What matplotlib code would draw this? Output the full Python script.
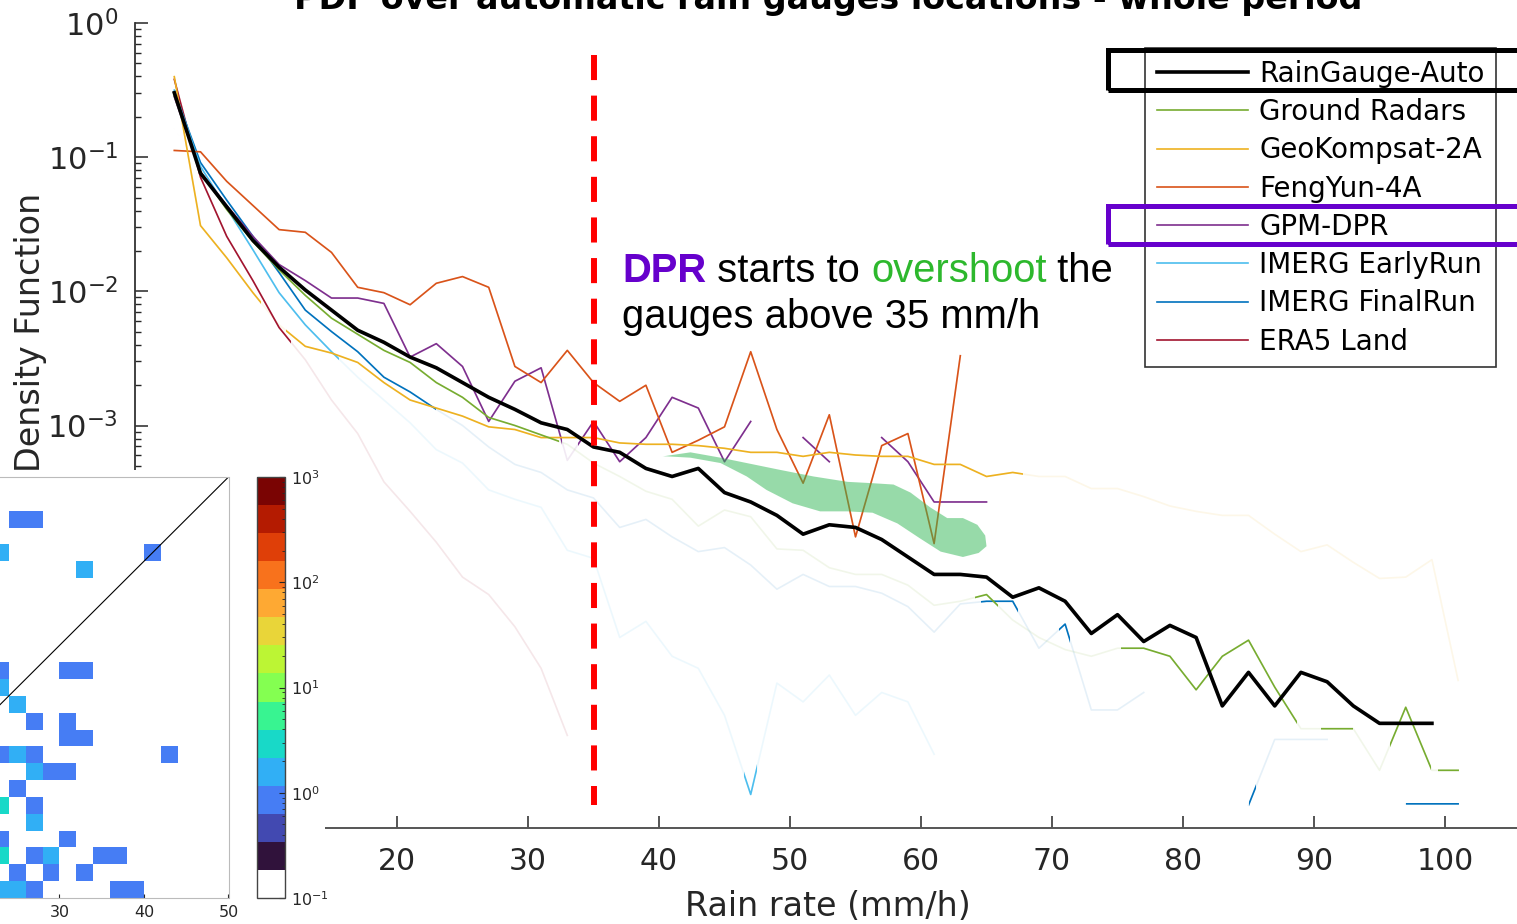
import numpy as np
import matplotlib.pyplot as plt
import matplotlib.transforms as mtransforms
from matplotlib.lines import Line2D
from matplotlib.patches import Rectangle, Polygon
from matplotlib.colors import ListedColormap, LogNorm

# bin centres of the rain rate (mm/h)
rain_rate = np.arange(3, 102, 2)
nan = np.nan

# log10 of the PDF (one value per bin, nan = no data)
gauge_log = [-0.52, -1.12, -1.37, -1.62, -1.82, -1.99, -2.14, -2.29, -2.38, -2.49,
             -2.57, -2.68, -2.79, -2.88, -2.98, -3.03, -3.16, -3.20, -3.32, -3.38,
             -3.32, -3.50, -3.57, -3.67, -3.81, -3.74, -3.76, -3.85, -3.98, -4.11,
             -4.11, -4.13, -4.28, -4.21, -4.31, -4.55, -4.41, -4.61, -4.49, -4.58,
             -5.09, -4.84, -5.09, -4.84, -4.91, -5.09, -5.22, -5.22, -5.22, nan]
radar_log = [-0.54, -1.11, -1.39, -1.63, -1.84, -2.03, -2.20, -2.32, -2.44, -2.53,
             -2.68, -2.79, -2.94, -3.00, -3.07, -3.14, -3.28, -3.38, -3.49, -3.55,
             -3.75, -3.63, -3.68, -3.92, -3.93, -4.06, -4.11, -4.11, -4.19, -4.34,
             -4.31, -4.26, -4.45, -4.58, -4.67, -4.72, -4.66, -4.66, -4.72, -4.97,
             -4.72, -4.60, -4.95, -5.26, -5.26, -5.26, -5.57, -5.10, -5.57, -5.57]
geok_log = [-0.40, -1.51, -1.75, -2.01, -2.25, -2.41, -2.46, -2.53, -2.68, -2.81,
            -2.87, -2.93, -3.01, -3.03, -3.09, -3.09, -3.09, -3.13, -3.14, -3.14,
            -3.15, -3.17, -3.20, -3.20, -3.23, -3.20, -3.22, -3.23, -3.23, -3.29,
            -3.29, -3.38, -3.35, -3.38, -3.38, -3.47, -3.47, -3.53, -3.60, -3.64,
            -3.67, -3.67, -3.81, -3.94, -3.89, -4.02, -4.14, -4.13, -4.00, -4.90]
fengyun_log = [-0.95, -0.96, -1.18, -1.36, -1.54, -1.56, -1.71, -1.97, -2.01, -2.10,
               -1.94, -1.89, -1.97, -2.56, -2.68, -2.44, -2.68, -2.82, -2.70, -3.20,
               -3.11, -3.01, -2.45, -3.03, -3.43, -2.92, -3.83, -3.15, -3.06, -3.88,
               -2.48, nan, nan, nan, nan, nan, nan, nan, nan, nan,
               nan, nan, nan, nan, nan, nan, nan, nan, nan, nan]
dpr_log = [-0.55, -1.11, -1.36, -1.59, -1.80, -1.92, -2.05, -2.05, -2.09, -2.49,
           -2.39, -2.56, -2.97, -2.67, -2.57, -3.26, -2.97, -3.27, -3.09, -2.79,
           -2.87, -3.27, -2.97, nan, -3.09, -3.27, nan, -3.09, -3.27, -3.57,
           -3.57, -3.57, nan, nan, nan, nan, nan, nan, nan, nan,
           nan, nan, nan, nan, nan, nan, nan, nan, nan, nan]
early_log = [-0.50, -1.07, -1.38, -1.69, -2.01, -2.25, -2.45, -2.64, -2.81, -2.98,
             -3.18, -3.28, -3.48, -3.55, -3.61, -3.93, -3.99, -4.58, -4.46, -4.72,
             -4.81, -5.16, -5.75, -4.92, -5.06, -4.86, -5.16, -4.99, -5.06, -5.45,
             nan, nan, nan, nan, nan, nan, nan, nan, nan, nan,
             nan, nan, nan, nan, nan, nan, nan, nan, nan, nan]
final_log = [-0.51, -1.04, -1.32, -1.59, -1.86, -2.14, -2.30, -2.45, -2.64, -2.75,
             -2.88, -3.00, -3.16, -3.29, -3.35, -3.48, -3.54, -3.76, -3.70, -3.83,
             -3.94, -3.91, -4.04, -4.22, -4.11, -4.20, -4.20, -4.25, -4.35, -4.54,
             -4.33, -4.31, -4.31, -4.66, -4.48, -5.12, -5.12, -4.99, nan, nan,
             nan, -5.83, -5.34, -5.34, -5.34, nan, nan, -5.82, -5.82, -5.82]
era5_log = [-0.42, -1.15, -1.59, -1.92, -2.27, -2.51, -2.81, -3.06, -3.42, -3.64,
            -3.87, -4.13, -4.26, -4.50, -4.81, -5.31, nan, nan, nan, nan,
            nan, nan, nan, nan, nan, nan, nan, nan, nan, nan,
            nan, nan, nan, nan, nan, nan, nan, nan, nan, nan,
            nan, nan, nan, nan, nan, nan, nan, nan, nan, nan]

series_names = ['RainGauge-Auto', 'Ground Radars', 'GeoKompsat-2A', 'FengYun-4A',
                'GPM-DPR', 'IMERG EarlyRun', 'IMERG FinalRun', 'ERA5 Land']
series_logs = [gauge_log, radar_log, geok_log, fengyun_log,
               dpr_log, early_log, final_log, era5_log]
series_colors = ['black', '#77AC30', '#EDB120', '#D95319',
                 '#7E2F8E', '#4DBEEE', '#0072BD', '#A2142F']
series_lw = [2.6, 1.2, 1.2, 1.2, 1.2, 1.2, 1.2, 1.2]
# rain-rate ranges drawn at full opacity, the rest of each curve is faded
solid_ranges = [
    [(0, 110)],
    [(0, 32.4), (64.1, 65.9), (75.3, 88.7), (90.5, 93.0), (95.8, 98.9), (99.5, 110)],
    [(0, 9.6), (11.5, 67.8)],
    [(0, 110)],
    [(0, 32.6), (33.8, 110)],
    [(0, 15.6), (46.5, 47.5)],
    [(0, 23.0), (64.6, 67.4), (70.5, 71.4), (85.0, 85.6), (97.0, 110)],
    [(0, 11.9)],
]

# 2D histogram inset (bin lower-left corner, count)
cell_x = [24, 26, 22, 40, 32, 22, 30, 32, 22, 24, 26, 30, 30, 32, 22, 24, 26, 42,
          26, 28, 30, 24, 22, 26, 26, 22, 30, 22, 26, 28, 34, 36, 24, 28, 32,
          22, 24, 26, 36, 38]
cell_y = [44, 44, 40, 40, 38, 26, 26, 26, 24, 22, 20, 20, 18, 18, 16, 16, 16, 16,
          14, 14, 14, 12, 10, 10, 8, 6, 6, 4, 4, 4, 4, 4, 2, 2, 2,
          0, 0, 0, 0, 0]
cell_n = [1, 1, 2, 1, 2, 1, 1, 1, 2, 2, 1, 1, 1, 1, 1, 2, 1, 1,
          2, 1, 1, 1, 3, 1, 2, 1, 1, 3, 1, 2, 1, 1, 1, 1, 1,
          2, 2, 1, 1, 1]

# highlighted area above the gauge curve (rain rate, log10 PDF)
blob_x = [40.3, 42.4, 44.7, 46.7, 49.2, 51.8, 54.4, 56.3, 57.9, 59.2, 60.7, 62.0,
          63.2, 64.3, 64.9, 65.0, 64.4, 63.2, 61.5, 59.9, 58.2, 56.3, 54.4, 52.3,
          50.2, 48.2, 46.7, 44.7, 42.4, 40.6]
blob_log = [-3.23, -3.20, -3.24, -3.28, -3.33, -3.38, -3.42, -3.43, -3.44, -3.50,
            -3.61, -3.69, -3.69, -3.74, -3.82, -3.90, -3.95, -3.98, -3.94, -3.84,
            -3.73, -3.65, -3.64, -3.64, -3.58, -3.48, -3.38, -3.28, -3.24, -3.23]

W, H = 1517, 924
fig = plt.figure(figsize=(W / 100, H / 100), dpi=100)


def fx(px):
    return px / W


def fy(py):
    return 1 - py / H


tick_col = '#262626'
ax = fig.add_axes([fx(135), fy(828), (1521 - 135) / W, (828 - 23) / H])
ax.set_yscale('log')
ax.set_xlim(0, 105.8)
ax.set_ylim(1e-6, 1)

band = mtransforms.blended_transform_factory(ax.transData, ax.transAxes)
for k in range(len(series_names) - 1, -1, -1):
    y = 10.0 ** np.array(series_logs[k], dtype=float)
    z = 4 if k == 0 else 3
    ax.plot(rain_rate, y, color=series_colors[k], lw=series_lw[k], alpha=0.10, zorder=2)
    for x0, x1 in solid_ranges[k]:
        ln, = ax.plot(rain_rate, y, color=series_colors[k], lw=series_lw[k], zorder=z)
        ln.set_clip_path(Rectangle((x0, 0), x1 - x0, 1, transform=band))

blob = Polygon(np.column_stack([blob_x, 10.0 ** np.array(blob_log)]), closed=True,
               facecolor='#31B755', edgecolor='none', alpha=0.5, zorder=5)
ax.add_patch(blob)

ax.plot([35, 35], [10 ** -0.24, 10 ** -5.83], color='red', lw=4.3,
        dashes=(4.2, 2.6), zorder=6)

for s in ['top', 'right']:
    ax.spines[s].set_visible(False)
ax.spines['left'].set_color('#333333')
ax.spines['bottom'].set_color('#555555')
ax.spines['left'].set_linewidth(1.3)
ax.spines['bottom'].set_linewidth(1.4)
ax.set_xticks([20, 30, 40, 50, 60, 70, 80, 90, 100])
ax.tick_params(axis='x', direction='in', length=9, width=1.1, pad=14,
               labelsize=21.5, colors=tick_col)
ax.tick_params(axis='y', which='major', direction='in', length=9, width=1.1, pad=12,
               labelsize=22, colors=tick_col)
ax.tick_params(axis='y', which='minor', direction='in', length=4.5, width=1.0,
               colors=tick_col)
ax.set_xlabel('Rain rate (mm/h)', fontsize=24, color=tick_col, labelpad=10)
ax.set_ylabel('Probability Density Function', fontsize=24, color=tick_col)
ax.yaxis.set_label_coords((47 - 135) / (1521 - 135), 0.5)

handles = [Line2D([], [], color=series_colors[k], lw=series_lw[k])
           for k in range(len(series_names))]
leg = ax.legend(handles, series_names, loc='upper left',
                bbox_to_anchor=(fx(1145), fy(48)), bbox_transform=fig.transFigure,
                borderaxespad=0, fontsize=20, handlelength=3.3, handletextpad=0.4,
                labelspacing=0.37, borderpad=0.42, fancybox=False,
                edgecolor='#333333', framealpha=1)
leg.get_frame().set_linewidth(1.2)

fig.text(fx(828), fy(9), 'PDF over automatic rain gauges locations - whole period',
         ha='center', va='baseline', fontsize=24, weight='bold', color='black')

# annotation with coloured words
ann = dict(family='Liberation Sans', fontsize=28.8, va='bottom')
t1 = fig.text(fx(622), fy(282), 'DPR', color='#6600CC', weight='bold',
              family='Liberation Sans', fontsize=28.8, va='baseline')
t2 = ax.annotate(' starts to ', xy=(1, 0), xycoords=t1, color='black', **ann)
t3 = ax.annotate('overshoot', xy=(1, 0), xycoords=t2, color='#2DB82D', **ann)
ax.annotate(' the', xy=(1, 0), xycoords=t3, color='black', **ann)
fig.text(fx(622), fy(328), 'gauges above 35 mm/h', color='black',
         family='Liberation Sans', fontsize=28.8, va='baseline')

# highlight boxes on the legend
fig.add_artist(Rectangle((fx(1108), fy(90)), fx(1535) - fx(1108), (90 - 50) / H,
                         transform=fig.transFigure, fill=False, ec='black', lw=3.6,
                         zorder=10))
fig.add_artist(Rectangle((fx(1108), fy(244)), fx(1535) - fx(1108), (244 - 206) / H,
                         transform=fig.transFigure, fill=False, ec='#6600CC', lw=3.6,
                         zorder=10))

# white panel holding the inset
fig.add_artist(Rectangle((0, 0), fx(325), fy(470), transform=fig.transFigure,
                         facecolor='white', edgecolor='none', zorder=1))

edges = np.arange(0, 52, 2)
counts = np.zeros((len(edges) - 1, len(edges) - 1))
for cx, cy, n in zip(cell_x, cell_y, cell_n):
    counts[cy // 2, cx // 2] = n
counts = np.ma.masked_less_equal(counts, 0)

turbo = plt.get_cmap('turbo')
cmap = ListedColormap(['white'] + [turbo(i / 13) for i in range(14)])
norm = LogNorm(vmin=0.1, vmax=1000)

iax = fig.add_axes([fx(-194), fy(898), 422.5 / W, 421 / H])
iax.set_zorder(2)
mesh = iax.pcolormesh(edges, edges, counts, cmap=cmap, norm=norm)
iax.plot([0, 50], [0, 50], color='black', lw=0.8)
iax.set_xlim(0, 50)
iax.set_ylim(0, 50)
iax.set_xticks([30, 40, 50])
iax.set_yticks([])
iax.tick_params(axis='x', direction='in', length=3, labelsize=11.5, colors=tick_col,
                pad=5)
for s in iax.spines.values():
    s.set_color('#BBBBBB')
    s.set_linewidth(0.8)

cax = fig.add_axes([fx(257), fy(898), 28 / W, 421 / H])
cax.set_zorder(2)
cb = fig.colorbar(mesh, cax=cax)
cb.outline.set_edgecolor('#444444')
cb.outline.set_linewidth(1.0)
cax.tick_params(which='both', direction='in', colors=tick_col, labelsize=11.5)
cax.tick_params(which='major', length=4, pad=4)
cax.tick_params(which='minor', length=2)

fig.savefig('out.png', dpi=100, facecolor='white')
